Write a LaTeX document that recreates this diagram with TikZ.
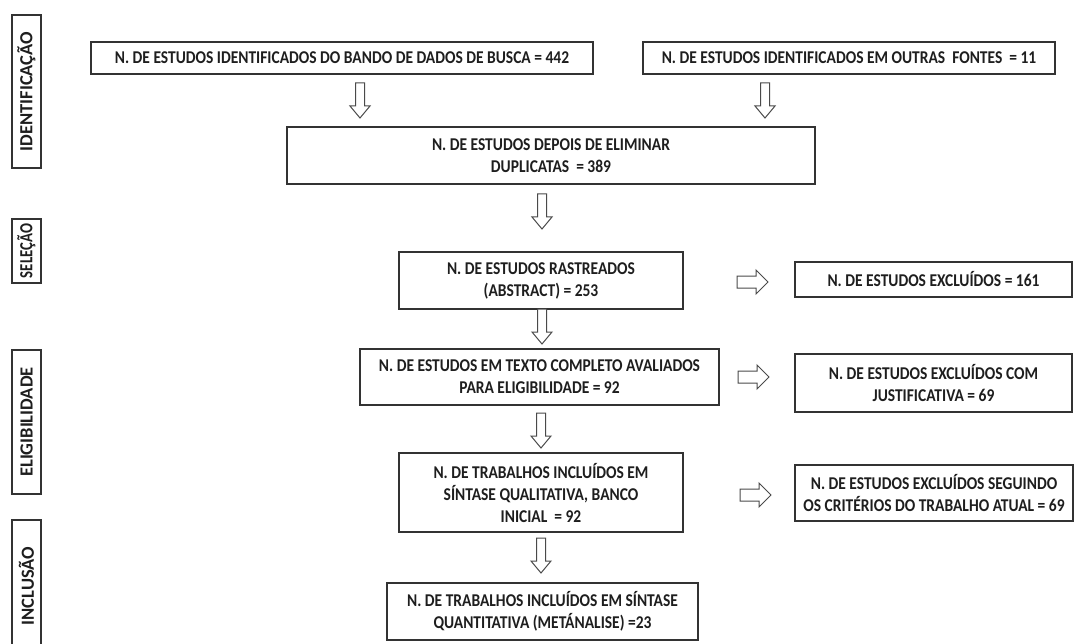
\documentclass[tikz,border=0pt]{standalone}
\usepackage{fontspec}
\setmainfont{Carlito}
\newfontfamily\condfont{Carlito}[FakeStretch=0.86]
\newfontfamily\sidecondfont{Carlito}[FakeStretch=0.8]
\definecolor{boxcol}{HTML}{333333}
\definecolor{textcol}{HTML}{1E1E1E}
\definecolor{arrcol}{HTML}{4A4A4A}
\tikzset{
  box/.style={draw=boxcol, line width=1.4pt, fill=white, align=center, inner sep=1pt,
    font=\condfont\fontsize{18}{22}\selectfont\bfseries, text=textcol},
  sidebox/.style={draw=boxcol, line width=1.4pt, rotate=90, inner sep=0pt,
    minimum height=29pt, font=\fontsize{18.5}{20}\selectfont\bfseries, text=textcol},
  downarrow/.pic={\draw[arrcol, line width=1pt, fill=white, line join=miter]
    (-4.5,0)--(4.5,0)--(4.5,23)--(10,23)--(0,35)--(-10,23)--(-4.5,23)--cycle;},
  rightarrow/.pic={\draw[arrcol, line width=1pt, fill=white, line join=miter]
    (0,-6)--(19,-6)--(19,-12)--(31,0)--(19,12)--(19,6)--(0,6)--cycle;}
}
\begin{document}
\begin{tikzpicture}[x=1pt, y=-1pt]
\useasboundingbox[fill=white] (0,0) rectangle (1075,644);
\begin{scope}
\clip (0,0) rectangle (1075,644);
% side labels
\node[sidebox, minimum width=153pt] (sid) at (26.5,91.5) {IDENTIFICAÇÃO};
\node[sidebox, minimum width=64pt, font=\sidecondfont\fontsize{18.5}{20}\selectfont\bfseries] (ssel) at (26.5,251) {SELEÇÃO};
\node[sidebox, minimum width=144pt] (selg) at (26.5,422) {ELIGIBILIDADE};
\node[sidebox, minimum width=132pt] (sinc) at (26.5,586) {INCLUSÃO};
\end{scope}
% main boxes
\node[box, minimum width=502pt, minimum height=32pt] (A) at (342,58)
  {N. DE ESTUDOS IDENTIFICADOS DO BANDO DE DADOS DE BUSCA = 442};
\node[box, minimum width=412pt, minimum height=32pt] (B) at (849,58)
  {N. DE ESTUDOS IDENTIFICADOS EM OUTRAS\ \ FONTES\ \ = 11};
\node[box, minimum width=528pt, minimum height=57pt] (C) at (551,155.5)
  {N. DE ESTUDOS DEPOIS DE ELIMINAR\\DUPLICATAS\ \ = 389};
\node[box, minimum width=284pt, minimum height=57pt] (D) at (541,280.5)
  {N. DE ESTUDOS RASTREADOS\\(ABSTRACT) = 253};
\node[box, minimum width=277pt, minimum height=35pt] (E) at (933.5,279.5)
  {N. DE ESTUDOS EXCLUÍDOS = 161};
\node[box, minimum width=359pt, minimum height=56pt] (F) at (539.5,377)
  {N. DE ESTUDOS EM TEXTO COMPLETO AVALIADOS\\PARA ELIGIBILIDADE = 92};
\node[box, minimum width=277pt, minimum height=58pt] (G) at (933.5,383)
  {N. DE ESTUDOS EXCLUÍDOS COM\\JUSTIFICATIVA = 69};
\node[box, minimum width=284pt, minimum height=79pt] (H) at (541,492.5)
  {N. DE TRABALHOS INCLUÍDOS EM\\SÍNTASE QUALITATIVA, BANCO\\INICIAL\ \ = 92};
\node[box, minimum width=278pt, minimum height=56pt] (I) at (934,493)
  {N. DE ESTUDOS EXCLUÍDOS SEGUINDO\\OS CRITÉRIOS DO TRABALHO ATUAL = 69};
\node[box, minimum width=311pt, minimum height=57pt] (J) at (542.5,611.5)
  {N. DE TRABALHOS INCLUÍDOS EM SÍNTASE\\QUANTITATIVA (METÁNALISE) =23};
% block arrows
\pic at (360,83) {downarrow};
\pic at (765,83) {downarrow};
\pic at (542,194) {downarrow};
\pic at (542,309) {downarrow};
\pic at (541,413) {downarrow};
\pic at (541,538) {downarrow};
\pic at (737,282) {rightarrow};
\pic at (738,377) {rightarrow};
\pic at (740,495) {rightarrow};
\end{tikzpicture}
\end{document}
